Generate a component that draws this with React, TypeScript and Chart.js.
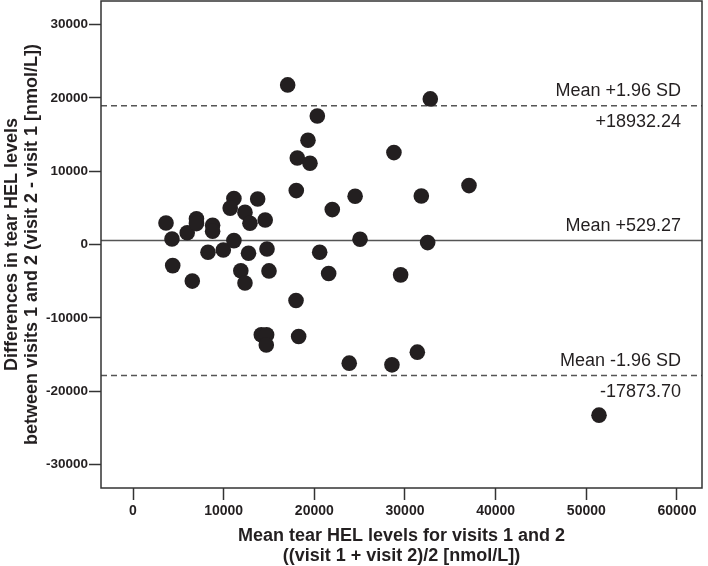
import React, { useEffect, useRef } from 'react';
import { Chart, registerables } from 'chart.js';

Chart.register(...registerables);

const meanLevels = [3640, 4300, 4380, 5980, 6540, 7000, 7000, 8780, 8780, 8270, 9960, 11130, 10720, 11130, 12350, 12900, 13750, 14580, 12740, 14780, 11890, 12350, 15000, 14150, 14740, 14700, 17060, 20330, 19300, 18120, 19520, 18010, 21980, 24500, 20590, 21580, 17980, 18270, 23850, 28560, 31360, 25040, 32500, 29520, 32790, 28780, 37060, 31800, 51400];
const differences = [2940, 740, -2880, 1600, -4990, 3500, 2850, 2620, 1800, -1050, -740, 6260, 4960, 530, 4380, 2900, 6200, 3350, -1190, -620, -3580, -5250, -3600, -12320, -12320, -13690, 21760, 17530, 14220, 11800, 11080, 7350, 4760, 6580, -1050, -3960, -7640, -12550, -16180, -16410, -14680, 720, 260, -4140, 19850, 12530, 8030, 6620, -23270];

const meanDiff = 529.27;
const upperLimit = 18932.24;
const lowerLimit = -17873.7;

const xTickValues = [0, 10000, 20000, 30000, 40000, 50000, 60000];
const yTickValues = [-30000, -20000, -10000, 0, 10000, 20000, 30000];

const xTitle = ['Mean tear HEL levels for visits 1 and 2', '((visit 1 + visit 2)/2 [nmol/L])'];
const yTitle = ['Differences in tear HEL levels', 'between visits 1 and 2 (visit 2 - visit 1 [nmol/L])'];

const refLines = [
  { value: upperLimit, dashed: true, above: 'Mean +1.96 SD', below: '+18932.24' },
  { value: meanDiff, dashed: false, above: 'Mean +529.27', below: '' },
  { value: lowerLimit, dashed: true, above: 'Mean -1.96 SD', below: '-17873.70' },
];

const FONT = '"Liberation Sans", Arial, sans-serif';
const INK = '#231f20';

const overlay = {
  id: 'overlay',
  beforeDatasetsDraw(chart: any) {
    const { ctx, chartArea, scales } = chart;
    ctx.save();
    refLines.forEach((r) => {
      const y = scales.y.getPixelForValue(r.value);
      ctx.beginPath();
      ctx.strokeStyle = '#555555';
      ctx.lineWidth = 1.5;
      ctx.setLineDash(r.dashed ? [6, 4] : []);
      ctx.moveTo(chartArea.left, y);
      ctx.lineTo(chartArea.right, y);
      ctx.stroke();
      ctx.setLineDash([]);
      ctx.fillStyle = INK;
      ctx.font = '18px ' + FONT;
      ctx.textAlign = 'right';
      ctx.textBaseline = 'alphabetic';
      const tx = chartArea.right - 21;
      if (r.above) ctx.fillText(r.above, tx, y - 10);
      if (r.below) ctx.fillText(r.below, tx, y + 21);
    });
    ctx.restore();
  },
  afterDraw(chart: any) {
    const { ctx, chartArea } = chart;
    ctx.save();
    ctx.strokeStyle = '#333333';
    ctx.lineWidth = 1.5;
    ctx.strokeRect(chartArea.left, chartArea.top, chartArea.right - chartArea.left, chartArea.bottom - chartArea.top);
    ctx.restore();
  },
};

export default function App() {
  const ref = useRef<HTMLCanvasElement>(null);
  useEffect(() => {
    document.body.style.margin = '0';
    const canvas = ref.current;
    if (!canvas) return;
    const chart = new Chart(canvas, {
      type: 'scatter',
      data: {
        datasets: [
          {
            data: meanLevels.map((x, i) => ({ x, y: differences[i] })),
            backgroundColor: INK,
            borderColor: INK,
            pointRadius: 7.8,
            pointHoverRadius: 7.8,
            borderWidth: 0,
          },
        ],
      },
      options: {
        responsive: false,
        animation: false,
        devicePixelRatio: 1,
        layout: { autoPadding: false, padding: { top: 1, right: 6, left: 0, bottom: 0 } },
        plugins: { legend: { display: false }, tooltip: { enabled: false } },
        scales: {
          x: {
            type: 'linear',
            min: -3530,
            max: 62760,
            afterBuildTicks: (s: any) => {
              s.ticks = xTickValues.map((v) => ({ value: v }));
            },
            afterFit: (s: any) => {
              s.height = 78;
              s.paddingLeft = 0;
              s.paddingRight = 0;
            },
            border: { display: false },
            grid: { display: true, drawOnChartArea: false, drawTicks: true, tickLength: 12, tickColor: '#333333', tickWidth: 1.5 },
            ticks: {
              maxRotation: 0,
              autoSkip: false,
              padding: 3,
              color: INK,
              font: { family: FONT, size: 14, weight: 'bold' },
              callback: (v: any) => String(v),
            },
            title: {
              display: true,
              text: xTitle,
              color: INK,
              font: { family: FONT, size: 18, weight: 'bold', lineHeight: 1.1 },
              padding: { top: 0, bottom: 0 },
            },
          },
          y: {
            type: 'linear',
            min: -33200,
            max: 33200,
            afterBuildTicks: (s: any) => {
              s.ticks = yTickValues.map((v) => ({ value: v }));
            },
            afterFit: (s: any) => {
              s.width = 101;
              s.paddingTop = 0;
              s.paddingBottom = 0;
            },
            border: { display: false },
            grid: { display: true, drawOnChartArea: false, drawTicks: true, tickLength: 12, tickColor: '#333333', tickWidth: 1.5 },
            ticks: {
              autoSkip: false,
              padding: 1,
              color: INK,
              font: { family: FONT, size: 13.5, weight: 'bold' },
              callback: (v: any) => String(v),
            },
            title: {
              display: true,
              text: yTitle,
              color: INK,
              font: { family: FONT, size: 18, weight: 'bold', lineHeight: 1.1 },
              padding: { top: 2, bottom: 0 },
            },
          },
        },
      },
      plugins: [overlay],
    } as any);
    return () => chart.destroy();
  }, []);
  return (
    <div style={{ width: 708, height: 566, background: '#fff' }}>
      <canvas ref={ref} width={708} height={566} style={{ display: 'block' }} />
    </div>
  );
}
